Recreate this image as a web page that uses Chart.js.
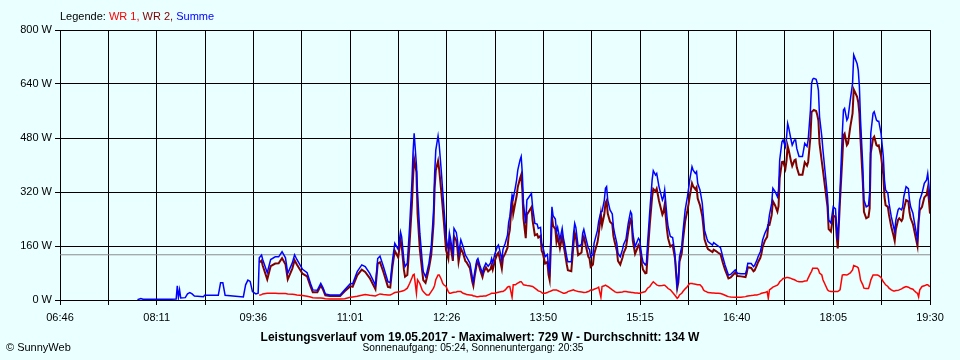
<!DOCTYPE html>
<html>
<head>
<meta charset="utf-8">
<script src="https://cdn.jsdelivr.net/npm/chart.js@4/dist/chart.umd.min.js"></script>
<style>
  html, body { margin: 0; padding: 0; background: #EAFFFF; }
  #wrap { position: relative; width: 960px; height: 360px; overflow: hidden; font-family: "Liberation Sans", Arial, sans-serif; }
  canvas { position: absolute; left: 0; top: 0; }
  .txt { position: absolute; font-size: 11px; line-height: 13px; color: #000; white-space: nowrap; }
  #legend { left: 60px; top: 10px; }
  #title { left: 0; width: 960px; text-align: center; top: 330px; font-weight: bold; font-size: 12px; line-height: 14px; }
  #sub { left: 0; width: 946px; text-align: center; top: 342px; font-size: 10.2px; line-height: 12px; }
  #copy { left: 6px; top: 341px; }
</style>
</head>
<body>
<div id="wrap">
  <canvas id="c" width="960" height="360"></canvas>
  <div class="txt" id="legend">Legende: <span style="color:#FF0000">WR 1,</span> <span style="color:#800000">WR 2,</span> <span style="color:#0000FF">Summe</span></div>
  <div class="txt" id="title">Leistungsverlauf vom 19.05.2017 - Maximalwert: 729 W - Durchschnitt: 134 W</div>
  <div class="txt" id="sub">Sonnenaufgang: 05:24, Sonnenuntergang: 20:35</div>
  <div class="txt" id="copy">© SunnyWeb</div>
</div>
<script>
// ---- data ----
const times = [
"07:54","07:57","07:59","08:23","08:28","08:29","08:30","08:31","08:32","08:36","08:38","08:40","08:42","08:44","08:52","08:53","09:05","09:07","09:09","09:11","09:27","09:29","09:31","09:33","09:35","09:38","09:40",
"09:41","09:43","09:44","09:48","09:51","09:55","09:58","10:01","10:04","10:06","10:10","10:12","10:14","10:19","10:23","10:26","10:28","10:32","10:35","10:37","10:39","10:43","10:52","10:56",
"11:01","11:03","11:07","11:11","11:14","11:18","11:23","11:25","11:27","11:30","11:34","11:36","11:38","11:40","11:43","11:45","11:46","11:48","11:49","11:51","11:53","11:55","11:56","11:57","11:59",
"12:00","12:02","12:04","12:05","12:07","12:08","12:10","12:12","12:14","12:15","12:16","12:18","12:19","12:21","12:22","12:23","12:25","12:27","12:28","12:29","12:31","12:32","12:34","12:35","12:36","12:38","12:40","12:42","12:43","12:46","12:48","12:49","12:50","12:52","12:53","12:55","12:57","12:58",
"13:00","13:02","13:04","13:05","13:06","13:08","13:10","13:11","13:12","13:14","13:15","13:17","13:19","13:20","13:21","13:23","13:24","13:26","13:27","13:28","13:30","13:31","13:32","13:33","13:35","13:36","13:38","13:40","13:41","13:43","13:45","13:46","13:48","13:49","13:50","13:52","13:54","13:55","13:56","13:58","13:59",
"14:01","14:02","14:03","14:05","14:07","14:08","14:09","14:11","14:12","14:15","14:17","14:18","14:19","14:21","14:24","14:25","14:26","14:28","14:30","14:31","14:32","14:34","14:35","14:38","14:39","14:41","14:42","14:44","14:45","14:46","14:47","14:49","14:51","14:52","14:53","14:55","14:56","14:58",
"15:00","15:01","15:03","15:05","15:07","15:08","15:09","15:11","15:13","15:14","15:15","15:17","15:18","15:20","15:21","15:22","15:24","15:26","15:27","15:29","15:30","15:32","15:35","15:36","15:37","15:39","15:40","15:42","15:44","15:46","15:48","15:49","15:50","15:52","15:53","15:55","15:57","15:58","15:59",
"16:01","16:02","16:04","16:05","16:06","16:08","16:10","16:11","16:12","16:14","16:15","16:19","16:20","16:22","16:24","16:26","16:28","16:30","16:32","16:33","16:35","16:39","16:41","16:44","16:48","16:49","16:50","16:53","16:55","16:56","16:58","16:59",
"17:01","17:02","17:03","17:05","17:07","17:08","17:09","17:11","17:12","17:14","17:16","17:17","17:18","17:20","17:21","17:23","17:24","17:25","17:26","17:28","17:29","17:31","17:32","17:33","17:35","17:38","17:40","17:42","17:43","17:45","17:46","17:47","17:48","17:50","17:51","17:52","17:53","17:55","17:56","17:58",
"18:00","18:01","18:03","18:05","18:07","18:08","18:09","18:11","18:13","18:14","18:15","18:17","18:18","18:20","18:22","18:23","18:26","18:27","18:28","18:29","18:31","18:32","18:34","18:36","18:37","18:38","18:40","18:41","18:43","18:44","18:45","18:47","18:49","18:50","18:51","18:53","18:54","18:56","18:58","18:59",
"19:00","19:02","19:03","19:05","19:06","19:07","19:09","19:11","19:12","19:13","19:15","19:16","19:18","19:19","19:20","19:21","19:23","19:25","19:27","19:28","19:29","19:30"
];
const summe = [
1,4,2,2,3,42,8,30,6,7,18,22,18,12,10,14,14,51,51,14,9,45,59,55,25,18,20,
125,133,120,81,120,128,128,143,125,79,110,134,120,91,81,49,30,29,49,36,18,15,15,30,
49,48,84,104,99,79,44,123,130,99,54,52,118,168,150,202,188,118,99,109,217,346,435,494,400,
316,198,118,84,69,79,109,158,260,375,444,486,460,375,326,280,188,148,198,180,138,212,200,178,138,178,158,133,128,109,69,54,79,118,123,99,79,94,
109,100,109,123,110,138,158,163,150,118,150,168,193,230,247,311,300,336,356,385,415,425,375,287,227,296,306,316,276,227,225,212,215,168,158,128,135,99,84,276,250,
240,202,215,178,212,185,168,128,113,113,198,227,215,158,165,198,209,180,153,150,128,135,168,207,232,262,262,296,331,336,296,267,255,217,198,168,138,128,
150,165,180,227,262,255,198,158,175,183,178,128,113,104,110,168,267,356,383,370,375,336,296,305,326,247,217,188,185,138,40,60,128,158,200,267,306,330,356,
395,385,375,380,346,326,287,247,207,183,173,163,170,165,160,155,128,104,84,74,76,89,79,78,78,90,109,108,99,103,118,128,
143,158,178,198,212,227,252,287,331,321,306,326,415,469,474,454,480,523,509,474,459,474,474,449,425,425,464,455,474,563,642,654,657,654,642,622,543,484,444,375,
306,237,228,276,270,217,178,326,494,563,568,533,540,593,642,726,700,681,632,533,395,296,276,280,316,494,553,558,533,530,530,494,425,356,326,316,287,247,217,202,
237,267,272,267,276,306,336,330,296,276,257,237,198,180,240,296,316,346,356,375,340,296
];
const wr1 = [
null,null,null,null,null,null,null,null,null,null,null,null,null,null,null,null,null,null,null,null,null,null,null,null,null,null,null,
14,16,18,20,20,20,19,19,19,18,17,16,15,13,11,9,7,6,6,5,4,3,3,4,
8,9,11,14,16,14,12,15,18,16,15,15,18,22,24,25,26,28,30,35,49,65,74,76,20,
60,49,30,25,18,15,15,25,35,44,60,74,74,60,50,45,40,25,20,20,22,23,24,25,25,25,20,18,16,15,14,12,12,10,10,11,11,12,
12,15,18,20,20,20,22,23,24,25,25,30,38,40,40,8,45,45,48,50,54,54,50,45,44,43,42,41,40,35,30,27,25,22,20,20,22,24,25,28,30,
30,30,28,25,22,20,20,22,25,28,30,28,27,25,24,23,22,23,25,27,30,30,32,36,38,8,40,42,44,42,40,35,30,28,25,22,22,23,
24,25,25,24,23,22,22,21,21,20,20,22,23,25,30,35,40,50,54,48,45,42,43,44,44,38,34,30,22,14,5,8,15,20,25,33,40,45,49,
49,48,47,46,45,45,38,30,27,24,22,21,21,20,20,19,17,14,11,10,9,8,8,8,10,11,12,13,14,15,15,16,
18,20,21,22,25,5,30,35,38,41,44,48,54,60,64,65,67,67,66,64,62,60,58,56,54,54,56,57,65,79,85,94,94,94,94,90,80,74,60,45,
30,27,25,25,25,25,25,30,74,75,75,74,76,80,89,102,98,95,80,59,45,35,34,34,45,59,74,74,74,74,72,67,54,50,45,40,35,30,27,27,
28,29,30,33,35,37,40,38,36,34,32,28,22,20,9,30,40,42,45,45,42,40
];
const wr2 = [
null,null,null,null,null,null,null,null,null,null,null,null,null,null,null,null,null,null,null,null,null,null,null,null,null,null,null,
111,117,102,61,100,108,109,124,106,61,93,118,105,78,70,40,23,23,43,31,14,12,12,26,
41,39,73,90,83,65,32,108,112,83,39,37,100,146,126,177,162,90,69,74,168,281,361,418,380,
256,149,88,59,51,64,94,133,225,331,384,412,386,315,276,235,148,123,178,160,116,189,176,153,113,153,138,115,112,94,55,42,67,108,113,88,68,82,
97,85,91,103,90,118,136,140,126,93,125,138,155,190,207,303,255,291,308,335,361,371,325,242,183,253,264,275,236,192,195,185,190,146,138,108,113,75,59,248,220,
210,172,187,153,190,165,148,106,88,85,168,199,188,133,141,175,187,157,128,123,98,105,136,171,194,254,222,254,287,294,256,232,225,189,173,146,116,105,
126,140,155,203,239,233,176,137,154,163,158,106,90,79,80,133,227,306,329,322,330,294,253,261,282,209,183,158,163,124,35,52,113,138,175,234,266,285,307,
346,337,328,334,301,281,249,217,180,159,151,142,149,145,140,136,111,90,73,64,67,81,71,70,68,79,97,95,85,88,103,112,
125,138,157,176,187,222,222,252,293,280,262,278,361,409,410,389,413,456,443,410,397,414,416,393,371,371,408,398,409,484,557,560,563,560,548,532,463,410,384,330,
276,210,203,251,245,192,153,296,420,488,493,459,464,513,553,624,602,586,552,474,350,261,242,246,271,435,479,484,459,456,458,427,371,306,281,276,252,217,190,175,
209,238,242,234,241,269,296,292,260,242,225,209,176,160,231,266,276,304,311,330,298,256
];
const average = 134;
const startTime = "06:46";
const endTime = "19:30";
const xTickLabels = ["06:46","08:11","09:36","11:01","12:26","13:50","15:15","16:40","18:05","19:30"];
const yTickValues = [0,160,320,480,640,800];

// ---- helpers ----
function toMin(s){ const p = s.split(":"); return (+p[0])*60 + (+p[1]); }
const t0 = toMin(startTime), t1 = toMin(endTime), span = t1 - t0;
function pts(arr){ return times.map((t,i)=>({x: toMin(t)-t0, y: arr[i]})); }

const font = { family: "'Liberation Sans', Arial, sans-serif", size: 11 };

new Chart(document.getElementById('c'), {
  type: 'line',
  data: {
    datasets: [
      { label: 'Summe', data: pts(summe), borderColor: '#0000FF', borderWidth: 1.5, order: 1, spanGaps: false },
      { label: 'WR 2', data: pts(wr2), borderColor: '#800000', borderWidth: 2, order: 2, spanGaps: false },
      { label: 'WR 1', data: pts(wr1), borderColor: '#FF0000', borderWidth: 1.5, order: 3, spanGaps: false },
      { label: 'Durchschnitt', data: [{x:0, y:average},{x:span, y:average}], borderColor: '#8C8C8C', borderWidth: 1, order: 4 }
    ]
  },
  options: {
    responsive: false,
    animation: false,
    devicePixelRatio: 1,
    parsing: true,
    layout: { padding: { top: 30, right: 30, left: 0, bottom: 0 } },
    elements: { point: { radius: 0 }, line: { tension: 0, borderJoinStyle: 'miter' } },
    plugins: { legend: { display: false }, tooltip: { enabled: false } },
    scales: {
      x: {
        type: 'linear', min: 0, max: span,
        afterBuildTicks: (sc) => { const n = (xTickLabels.length-1)*2; sc.ticks = Array.from({length:n+1}, (_,i)=>({value: i*span/n})); },
        afterFit: (sc) => { sc.height = 60; },
        grid: { color: '#000000', lineWidth: 1, tickLength: 5, drawTicks: true },
        border: { display: true, color: '#000000', width: 1 },
        ticks: { color: '#000000', font: font, maxRotation: 0, autoSkip: false, padding: 6,
          callback: (v, i) => (i % 2 === 0 ? xTickLabels[i/2] : '') }
      },
      y: {
        min: 0, max: 800,
        afterBuildTicks: (sc) => { sc.ticks = yTickValues.map(v=>({value:v})); },
        afterFit: (sc) => { sc.width = 60; },
        grid: { color: '#000000', lineWidth: 1, tickLength: 5, drawTicks: true },
        border: { display: true, color: '#000000', width: 1 },
        ticks: { color: '#000000', font: font, padding: 3, callback: (v) => v + ' W' }
      }
    }
  }
});
</script>
</body>
</html>
